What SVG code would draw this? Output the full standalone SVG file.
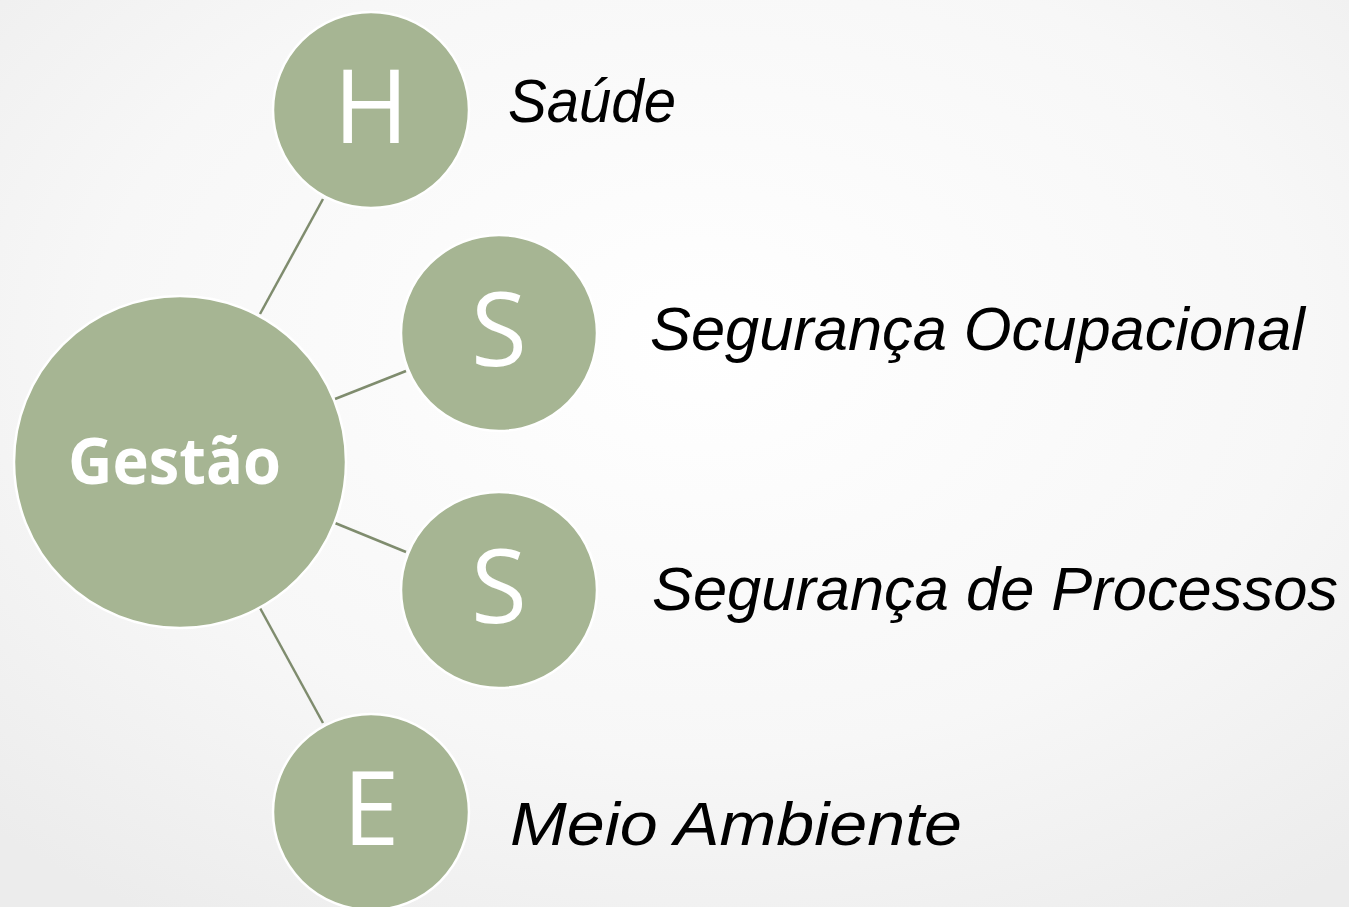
<svg xmlns="http://www.w3.org/2000/svg" width="1349" height="907" viewBox="0 0 1349 907">
  <defs>
    <radialGradient id="bg" cx="0.52" cy="0.38" r="0.75">
      <stop offset="0" stop-color="#FFFFFF"/>
      <stop offset="0.6" stop-color="#F7F7F7"/>
      <stop offset="1" stop-color="#ECECEC"/>
    </radialGradient>
    <style>
      .node { fill: #A6B593; stroke: #FFFFFF; stroke-width: 2.5; }
      .conn { stroke: #7F8C6E; stroke-width: 2.5; fill: none; }
      .letter { font-family: "Open Sans", "Liberation Sans", sans-serif; font-size: 102px; fill: #FFFFFF; text-anchor: middle; }
      .main { font-family: "Open Sans", "Liberation Sans", sans-serif; font-weight: bold; font-size: 64px; fill: #FFFFFF; }
      .label { font-family: "Liberation Sans", "DejaVu Sans", sans-serif; font-style: italic; font-size: 62px; fill: #000000; }
    </style>
  </defs>
  <rect x="0" y="0" width="1349" height="907" fill="url(#bg)"/>
  <g id="connectors">
    <line class="conn" x1="260" y1="314" x2="323" y2="199"/>
    <line class="conn" x1="335" y1="399" x2="406" y2="371"/>
    <line class="conn" x1="335" y1="523" x2="406" y2="552"/>
    <line class="conn" x1="260" y1="608" x2="323" y2="723"/>
  </g>
  <g id="node-gestao">
    <circle class="node" cx="180" cy="462" r="166"/>
    <text class="main" x="68" y="484" textLength="213" lengthAdjust="spacingAndGlyphs">Gestão</text>
  </g>
  <g id="node-h">
    <circle class="node" cx="371" cy="110" r="98"/>
    <text class="letter" x="371" y="143">H</text>
  </g>
  <g id="node-s1">
    <circle class="node" cx="499" cy="333" r="98"/>
    <text class="letter" x="499" y="366">S</text>
  </g>
  <g id="node-s2">
    <circle class="node" cx="499" cy="590" r="98"/>
    <text class="letter" x="499" y="623">S</text>
  </g>
  <g id="node-e">
    <circle class="node" cx="371" cy="812" r="98"/>
    <text class="letter" x="371" y="845">E</text>
  </g>
  <g id="labels">
    <text class="label" x="508" y="122" textLength="168" lengthAdjust="spacingAndGlyphs">Saúde</text>
    <text class="label" x="650" y="350" textLength="655" lengthAdjust="spacingAndGlyphs">Segurança Ocupacional</text>
    <text class="label" x="652" y="610" textLength="686" lengthAdjust="spacingAndGlyphs">Segurança de Processos</text>
    <text class="label" x="510" y="845" textLength="452" lengthAdjust="spacingAndGlyphs">Meio Ambiente</text>
  </g>
</svg>
